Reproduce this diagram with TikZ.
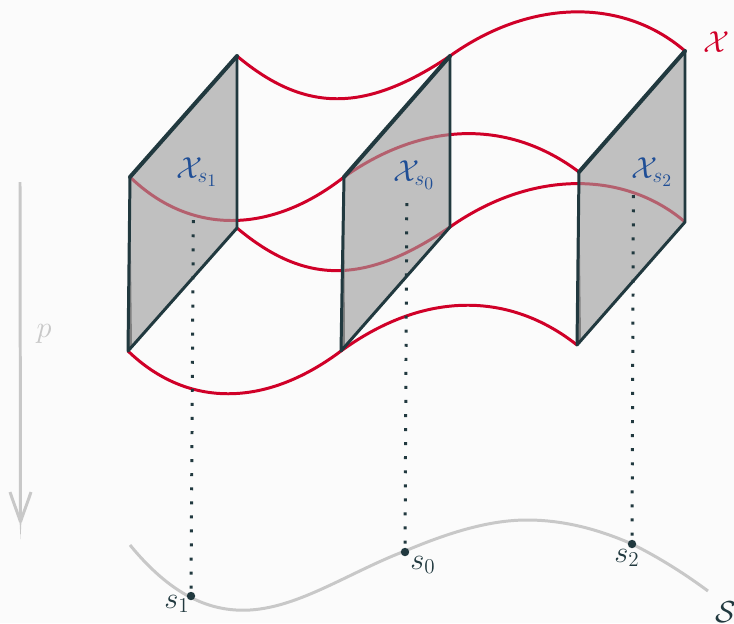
\documentclass[tikz,border=0pt]{standalone}
\usepackage{amsmath}
\DeclareMathSizes{18}{18}{13}{10}
\definecolor{bgc}{HTML}{FBFBFB}
\definecolor{darkc}{HTML}{21393F}
\definecolor{redc}{HTML}{D00028}
\definecolor{rosec}{HTML}{B4606E}
\definecolor{planec}{HTML}{C0C0C0}
\definecolor{greyc}{HTML}{C8C8C8}
\definecolor{bluec}{HTML}{1F4E96}
\tikzset{
  x=0.02cm,y=-0.02cm,
  redcurve/.style={draw=redc,line width=1.7pt},
  rosecurve/.style={draw=rosec,line width=1.7pt},
  planefill/.style={fill=planec},
  planeedge/.style={draw=darkc,line width=1.7pt,line join=round},
  planetop/.style={draw=darkc,line width=2.3pt,line cap=round},
  dots/.style={draw=darkc,line width=1.7pt,dash pattern=on 1.7pt off 6.3pt},
  basepoint/.style={circle,fill=darkc,inner sep=0pt,minimum size=4.8pt},
  greyline/.style={draw=greyc,line width=1.7pt},
  lab/.style={font=\fontsize{18}{21}\selectfont,inner sep=0pt},
}
\begin{document}
\begin{tikzpicture}
\useasboundingbox[fill=bgc] (0,0) rectangle (734,623);
% corners
\coordinate (a1) at (130,177); \coordinate (b1) at (237,56);
\coordinate (c1) at (237,228); \coordinate (d1) at (128,351);
\coordinate (a0) at (344,177); \coordinate (b0) at (450,56);
\coordinate (c0) at (450,227); \coordinate (d0) at (341,351);
\coordinate (a2) at (579,172); \coordinate (b2) at (685,51);
\coordinate (c2) at (685,222); \coordinate (d2) at (577,345);
% curves
\draw[redcurve] (b1) .. controls (305,113) and (365,113) .. (b0) .. controls (531,-2) and (624,-2) .. (b2);
\def\curveB{(a1) .. controls (190,235) and (270,235) .. (a0) .. controls (425,120) and (510,120) .. (a2)}
\def\curveC{(c1) .. controls (305,285) and (365,285) .. (c0) .. controls (531,170) and (624,170) .. (c2)}
\def\curveD{(d1) .. controls (187,408) and (265,408) .. (d0) .. controls (425,290) and (510,292) .. (d2)}
\draw[redcurve] \curveB;
\draw[redcurve] \curveC;
\draw[redcurve] \curveD;
% base curve
\draw[greyline] (130,545) .. controls (175,600) and (215,612) .. (250,610) .. controls (300,607) and (350,572) .. (405,551) .. controls (450,532) and (490,520) .. (527,520) .. controls (565,520) and (600,530) .. (632,544) .. controls (660,558) and (685,574) .. (708,591);
% planes
\fill[planefill] (a1) -- (b1) -- (c1) -- (d1) -- cycle;
\fill[planefill] (a0) -- (b0) -- (c0) -- (d0) -- cycle;
\fill[planefill] (a2) -- (b2) -- (c2) -- (d2) -- cycle;
% muted curves inside planes
\begin{scope}\clip (a1) -- (b1) -- (c1) -- (d1) -- cycle; \draw[rosecurve] \curveB; \end{scope}
\begin{scope}\clip (a0) -- (b0) -- (c0) -- (d0) -- cycle; \draw[rosecurve] \curveB; \draw[rosecurve] \curveC; \end{scope}
\begin{scope}\clip (a2) -- (b2) -- (c2) -- (d2) -- cycle; \draw[rosecurve] \curveC; \end{scope}
% base points
\node[basepoint] (s1) at (191,596) {};
\node[basepoint] (s0) at (405,552) {};
\node[basepoint] (s2) at (632,544) {};
% dotted lines
\coordinate (u1) at (193.3,220.2);
\coordinate (u0) at (406.8,203.2);
\coordinate (u2) at (633.4,195.2);
\draw[dots] (u1) -- (s1);
\draw[dots] (u0) -- (s0);
\draw[dots] (u2) -- (s2);
% plane edges
\foreach \i in {1,0,2}{
  \fill[gray] (a\i) -- (d\i) -- ++(4,-6) -- cycle;
  \draw[planeedge] (a\i) -- (d\i) -- (c\i) -- (b\i);
  \draw[planetop] (a\i) -- (b\i);
}
% arrow p
\coordinate (pa) at (20,182); \coordinate (pb) at (20.5,539);
\coordinate (pl) at (10,492); \coordinate (pr) at (31,492); \coordinate (pm) at (20.5,522);
\draw[greyline] (pa) -- (pm);
\draw[greyline] (pl) .. controls (14,504) and (18,514) .. (pm);
\draw[greyline] (pr) .. controls (27,504) and (23,514) .. (pm);
\fill[greyc] (19,510) -- (pb) -- (22,510) -- cycle;
% labels
\node[lab,text=greyc] (plab) at (44,334) {$p$};
\node[lab,text=redc] (xlab) at (717,42) {$\mathcal{X}$};
\node[lab,text=bluec] (x1) at (197,172) {$\mathcal{X}_{s_1}$};
\node[lab,text=bluec] (x0) at (414,175) {$\mathcal{X}_{s_0}$};
\node[lab,text=bluec] (x2) at (652,172) {$\mathcal{X}_{s_2}$};
\node[lab,text=darkc] (l1) at (177,604) {$s_1$};
\node[lab,text=darkc] (l0) at (423,565) {$s_0$};
\node[lab,text=darkc] (l2) at (627,558) {$s_2$};
\node[lab,text=darkc] (sl) at (726,612) {$\mathcal{S}$};
\end{tikzpicture}
\end{document}
